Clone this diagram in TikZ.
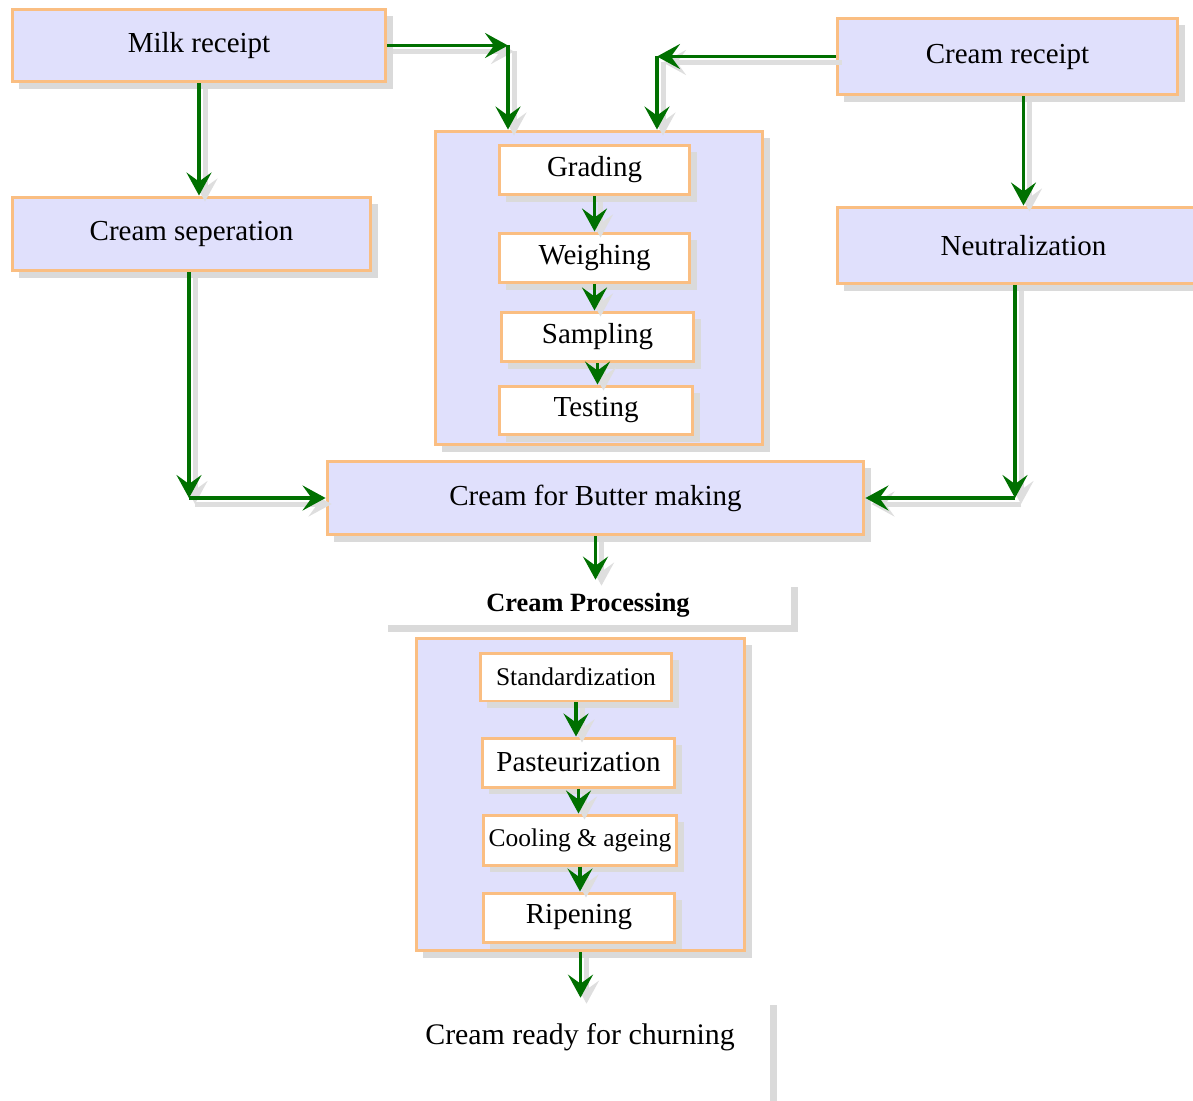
\documentclass[tikz,border=0pt]{standalone}
\usepackage{fontspec}
\setmainfont{Liberation Serif}
\usepackage{tikz}
\usetikzlibrary{arrows.meta,positioning,shadows}
\definecolor{cpfill}{RGB}{224,224,252}
\definecolor{cpedge}{RGB}{250,190,130}
\definecolor{cpgreen}{RGB}{0,112,0}
\definecolor{cpshade}{RGB}{218,218,218}
\definecolor{cparrshade}{RGB}{222,222,222}
\tikzset{
cpbox/.style={rectangle,draw=cpedge,fill=cpfill,line width=0.6mm,inner sep=0pt,align=center,
  font=\fontsize{16.5}{19}\selectfont,
  drop shadow={shadow xshift=1.4mm,shadow yshift=-1.4mm,fill=cpshade,opacity=1}},
cppanel/.style={cpbox},
cpstep/.style={cpbox,fill=white},
cpplain/.style={rectangle,fill=white,inner sep=0pt,
  drop shadow={shadow xshift=1.4mm,shadow yshift=-1.4mm,fill=cpshade,opacity=1}},
cptext/.style={inner sep=0pt,font=\fontsize{16.5}{19}\selectfont},
cparr/.style={-{Stealth[length=4.6mm,width=5mm,inset=1.8mm]},line width=0.65mm,draw=cpgreen,
  preaction={draw=cparrshade,line width=1mm,transform canvas={shift={(1.2mm,-1.2mm)}}}}
}
\begin{document}
\begin{tikzpicture}[x=0.02cm,y=-0.02cm]
\useasboundingbox (0,0) rectangle (1193,1101);
\clip (0,0) rectangle (1193,1101);
% receipt
\node[cpbox,minimum width=7.48cm,minimum height=1.46cm]
  (milk) at (199,45.5) {Milk receipt};
\node[cpbox,minimum width=6.82cm,minimum height=1.54cm]
  (creamin) at (1007.5,56.5) {Cream receipt};
\node[cpbox,minimum width=7.18cm,minimum height=1.48cm]
  (separation) at (191.5,234) {Cream seperation};
\node[cpbox,minimum width=7.46cm,minimum height=1.54cm]
  (neutral) at (1023.5,245.5) {Neutralization};
% platform tests
\node[cppanel,minimum width=6.56cm,minimum height=6.28cm]
  (intake) at (599,288) {};
\node[cpstep,minimum width=3.82cm,minimum height=1.00cm]
  (grading) at (594.5,170) {Grading};
\node[cpstep,minimum width=3.82cm,minimum height=1.00cm]
  (weighing) at (594.5,258) {Weighing};
\node[cpstep,minimum width=3.86cm,minimum height=1.00cm]
  (sampling) at (597.5,337) {Sampling};
\node[cpstep,minimum width=3.88cm,minimum height=0.98cm]
  (testing) at (596,410.5) {Testing};
\node[cpbox,minimum width=10.74cm,minimum height=1.48cm]
  (butter) at (595.5,498) {Cream for Butter making};
% processing
\node[cpplain,minimum width=8.20cm,minimum height=0.90cm]
  (proclabel) at (586,602.5) {};
\node[cptext,font=\fontsize{15}{18}\selectfont\bfseries]
  (proctitle) at (588,605) {Cream Processing};
\node[cppanel,minimum width=6.58cm,minimum height=6.26cm]
  (process) at (580.5,794.5) {};
\node[cpstep,minimum width=3.84cm,minimum height=0.96cm,font=\fontsize{14.5}{17}\selectfont]
  (standard) at (576,677) {Standardization};
\node[cpstep,minimum width=3.86cm,minimum height=0.98cm]
  (pasteur) at (578.5,762.5) {Pasteurization};
\node[cpstep,minimum width=3.88cm,minimum height=1.00cm,font=\fontsize{14.5}{17}\selectfont]
  (cooling) at (580,840) {Cooling \& ageing};
\node[cpstep,minimum width=3.84cm,minimum height=0.98cm]
  (ripening) at (579,917.5) {Ripening};
\node[cpplain,minimum width=7.80cm,minimum height=2.24cm]
  (churnbox) at (575,1054) {};
\node[cptext,font=\fontsize{17}{20}\selectfont]
  (churn) at (580,1037) {Cream ready for churning};
% connectors
\coordinate (milkturn) at (508,45.5);
\coordinate (creamturn) at (657,56.5);
\coordinate (septurn) at (189,498);
\coordinate (neutturn) at (1015,498);
\draw[cparr] (milk)--(milkturn);
\draw[cparr] (milkturn)--(milkturn |- intake.north);
\draw[cparr] (creamin)--(creamturn);
\draw[cparr] (creamturn)--(creamturn |- intake.north);
\draw[cparr] (milk.south)--(milk.south |- separation.north);
\draw[cparr] (neutral.north |- creamin.south)--(neutral.north);
\draw[cparr] (septurn |- separation.south)--(septurn);
\draw[cparr] (septurn)--(butter.west);
\draw[cparr] (neutturn |- neutral.south)--(neutturn);
\draw[cparr] (neutturn)--(butter.east);
\draw[cparr] (grading)--(weighing);
\draw[cparr] (weighing)--(sampling.north -| weighing);
\draw[cparr] (sampling)--(testing.north -| sampling);
\draw[cparr] (butter)--(proclabel.north -| butter);
\draw[cparr] (standard)--(pasteur.north -| standard);
\draw[cparr] (pasteur)--(cooling.north -| pasteur);
\draw[cparr] (cooling)--(ripening.north -| cooling);
\draw[cparr] (process)--(churnbox.north -| process);
\end{tikzpicture}
\end{document}
